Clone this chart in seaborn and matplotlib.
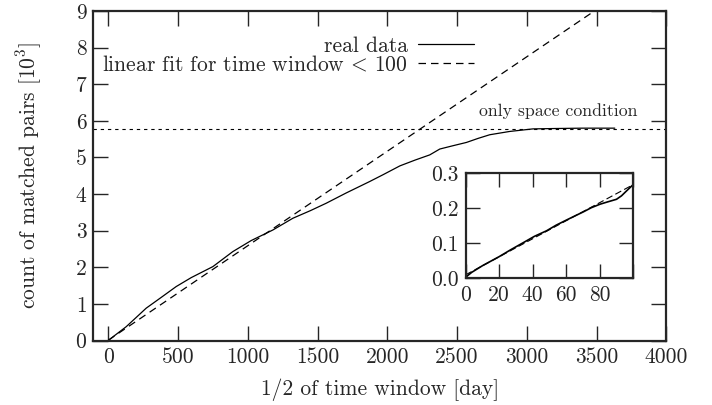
import numpy as np
import pandas as pd
import matplotlib
matplotlib.use("Agg")
import matplotlib.pyplot as plt
import seaborn as sns

# ---- data ----
days = [0, 50, 129, 200, 272, 380, 487, 595, 750, 893, 1024, 1180, 1323, 1450,
        1562, 1705, 1872, 1970, 2090, 2200, 2304, 2376, 2470, 2567, 2650, 2734,
        2877, 3044, 3200, 3400, 3630]
pairs = [0, 0.15, 0.38, 0.63, 0.885, 1.18, 1.475, 1.72, 2.02, 2.43, 2.73, 3.02,
         3.34, 3.55, 3.75, 4.03, 4.34, 4.53, 4.77, 4.93, 5.07, 5.23, 5.32, 5.41,
         5.52, 5.62, 5.71, 5.78, 5.79, 5.80, 5.80]

inset_days = [0, 3.6, 10, 20, 27, 34.4, 41, 48.3, 54, 60.3, 65, 70.2, 75, 80.2,
              85, 90, 93, 96, 99.5]
inset_pairs = [0.003, 0.017, 0.036, 0.062, 0.082, 0.102, 0.12, 0.136, 0.152,
               0.167, 0.178, 0.19, 0.202, 0.212, 0.219, 0.226, 0.236, 0.25, 0.266]

fit_slope = 0.00258
fit_intercept = 0.01
fit_days = [0, 3700]
space_level = 5.78

main_xticks = [0, 500, 1000, 1500, 2000, 2500, 3000, 3500, 4000]
main_yticks = [0, 1, 2, 3, 4, 5, 6, 7, 8, 9]
inset_xticks = [0, 20, 40, 60, 80]
inset_yticks = [0.0, 0.1, 0.2, 0.3]

# ---- style ----
sns.set_style("ticks")
plt.rcParams["font.family"] = ["cmr10", "DejaVu Serif"]
plt.rcParams["mathtext.fontset"] = "cm"
plt.rcParams["axes.formatter.use_mathtext"] = True
plt.rcParams["axes.unicode_minus"] = False

FS = 15.5

df = pd.DataFrame({"x": days, "y": pairs})
fit_df = pd.DataFrame({"x": fit_days,
                       "y": [fit_slope * d + fit_intercept for d in fit_days]})
ins_df = pd.DataFrame({"x": inset_days, "y": inset_pairs})
ins_fit_x = [0, 100]
ins_fit_df = pd.DataFrame({"x": ins_fit_x,
                           "y": [fit_slope * d + fit_intercept for d in ins_fit_x]})

fig = plt.figure(figsize=(7.12, 4.05), dpi=100)
ax = fig.add_axes([0.131, 0.159, 0.805, 0.814])

sns.lineplot(data=df, x="x", y="y", ax=ax, color="black", lw=0.9,
             label="real data")
sns.lineplot(data=fit_df, x="x", y="y", ax=ax, color="black", lw=0.9,
             dashes=False, label=r"linear fit for time window$\,<\,$100")
ax.lines[-1].set_dashes([6, 4])
ax.axhline(space_level, color="black", lw=0.8, dashes=(3, 3.5))
ax.text(3795, 6.05, "only space condition", fontsize=12.8, ha="right",
        va="bottom")

ax.set_xlim(-107, 4000)
ax.set_ylim(0, 9)
ax.set_xticks(main_xticks)
ax.set_yticks(main_yticks)
ax.set_xticklabels([str(v) for v in main_xticks], fontsize=FS)
ax.set_yticklabels([str(v) for v in main_yticks], fontsize=FS)
ax.tick_params(direction="in", length=11, width=1.0, top=True, right=True,
               pad=5)
for s in ax.spines.values():
    s.set_linewidth(1.6)
ax.set_xlabel("1/2 of time window [day]", fontsize=FS, labelpad=8)
ax.set_ylabel(r"count of matched pairs [$10^3$]", fontsize=FS, labelpad=23)

leg = ax.legend(loc="upper right", bbox_to_anchor=(0.68, 0.95), frameon=False,
                markerfirst=False, fontsize=FS, handlelength=2.6,
                handletextpad=0.5, labelspacing=-0.05, borderaxespad=0)
for t in leg.get_texts():
    t.set_ha("right")

# ---- inset ----
ins = fig.add_axes([0.654, 0.3128, 0.2354, 0.259])
sns.lineplot(data=ins_df, x="x", y="y", ax=ins, color="black", lw=1.2,
             legend=False)
sns.lineplot(data=ins_fit_df, x="x", y="y", ax=ins, color="black", lw=0.8,
             legend=False)
ins.lines[-1].set_dashes([6, 3])
ins.set_xlim(0, 100)
ins.set_ylim(0, 0.3)
ins.set_xticks(inset_xticks + [100])
ins.set_xticklabels([str(v) for v in inset_xticks] + [""], fontsize=FS)
ins.set_yticks(inset_yticks)
ins.set_yticklabels(["%.1f" % v for v in inset_yticks], fontsize=FS)
ins.tick_params(direction="in", length=10, width=1.0, top=True, right=True,
                pad=5)
for s in ins.spines.values():
    s.set_linewidth(1.6)
ins.set_xlabel("")
ins.set_ylabel("")

fig.savefig("out.png", dpi=100)
